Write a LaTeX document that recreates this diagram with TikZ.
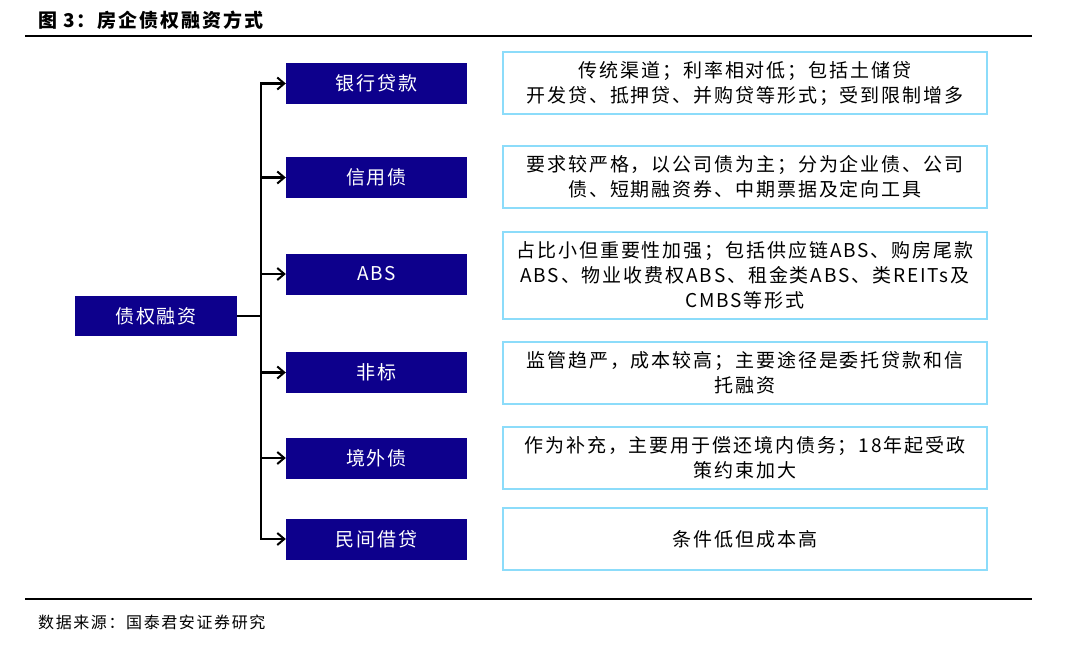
\documentclass[tikz,border=0pt]{standalone}
\usepackage{fontspec}
\setmainfont{Noto Sans CJK SC}[LetterSpace=10]
\newfontfamily\cjk{Noto Sans CJK SC}[LetterSpace=10]
\usetikzlibrary{arrows.meta}
\definecolor{navy}{RGB}{13,0,140}
\definecolor{skyb}{RGB}{140,220,250}
\tikzset{
  x=1pt, y=-1pt,
  darkbox/.style={fill=navy, draw=none, text=white, inner sep=0pt, font=\cjk\fontsize{19}{24}\selectfont},
  descbox/.style={draw=skyb, line width=2.2pt, fill=white, inner sep=0pt, align=center, text=black, font=\cjk\fontsize{19}{25}\selectfont},
  conn/.style={line width=2.2pt, black},
  arr/.style={conn, -{Straight Barb[length=7pt, width=12pt, line width=2pt]}},
  rule/.style={line width=1.2pt, black}
}
\begin{document}
\begin{tikzpicture}
\useasboundingbox (0,0) rectangle (1067,651);
\fill[white] (0,0) rectangle (1067,651);
% title and rules
\node[anchor=west, inner sep=0pt, font=\cjk\bfseries\fontsize{19}{22}\selectfont] (title) at (38,20) {图 3：房企债权融资方式};
\coordinate (r1a) at (25,36); \coordinate (r1b) at (1032,36);
\draw[rule] (r1a) -- (r1b);
\coordinate (r2a) at (25,599); \coordinate (r2b) at (1032,599);
\draw[rule] (r2a) -- (r2b);
\node[anchor=west, inner sep=0pt, font=\cjk\fontsize{16}{20}\selectfont] (src) at (38,622) {数据来源：国泰君安证券研究};
% main node
\node[darkbox, minimum width=162pt, minimum height=40pt] (main) at (156,316) {债权融资};
% category nodes
\node[darkbox, minimum width=181pt, minimum height=41pt] (c1) at (376.5,83.5) {银行贷款};
\node[darkbox, minimum width=181pt, minimum height=41pt] (c2) at (376.5,177.5) {信用债};
\node[darkbox, minimum width=181pt, minimum height=41pt] (c3) at (376.5,274) {ABS};
\node[darkbox, minimum width=181pt, minimum height=41pt] (c4) at (376.5,372.5) {非标};
\node[darkbox, minimum width=181pt, minimum height=41pt] (c5) at (376.5,458) {境外债};
\node[darkbox, minimum width=181pt, minimum height=41pt] (c6) at (376.5,539) {民间借贷};
% description boxes
\node[descbox, minimum width=484pt, minimum height=62pt] (d1) at (745,83) {传统渠道；利率相对低；包括土储贷\\开发贷、抵押贷、并购贷等形式；受到限制增多};
\node[descbox, minimum width=484pt, minimum height=62pt] (d2) at (745,177) {要求较严格，以公司债为主；分为企业债、公司\\债、短期融资券、中期票据及定向工具};
\node[descbox, minimum width=484pt, minimum height=87pt] (d3) at (745,275.5) {占比小但重要性加强；包括供应链ABS、购房尾款\\ABS、物业收费权ABS、租金类ABS、类REITs及\\CMBS等形式};
\node[descbox, minimum width=484pt, minimum height=62pt] (d4) at (745,373) {监管趋严，成本较高；主要途径是委托贷款和信\\托融资};
\node[descbox, minimum width=484pt, minimum height=62pt] (d5) at (745,458) {作为补充，主要用于偿还境内债务；18年起受政\\策约束加大};
\node[descbox, minimum width=484pt, minimum height=62pt] (d6) at (745,539) {条件低但成本高};
% connectors
\coordinate (jt) at (261,316);
\coordinate (tTop) at (261,83.5);
\coordinate (tBot) at (261,539);
\draw[conn] (main.east) -- (jt);
\draw[conn, line cap=rect] (tTop) -- (tBot);
\foreach \c in {c1,c2,c3,c4,c5,c6} {
  \draw[arr] (\c.west -| jt) -- (\c.west);
}
\end{tikzpicture}
\end{document}
